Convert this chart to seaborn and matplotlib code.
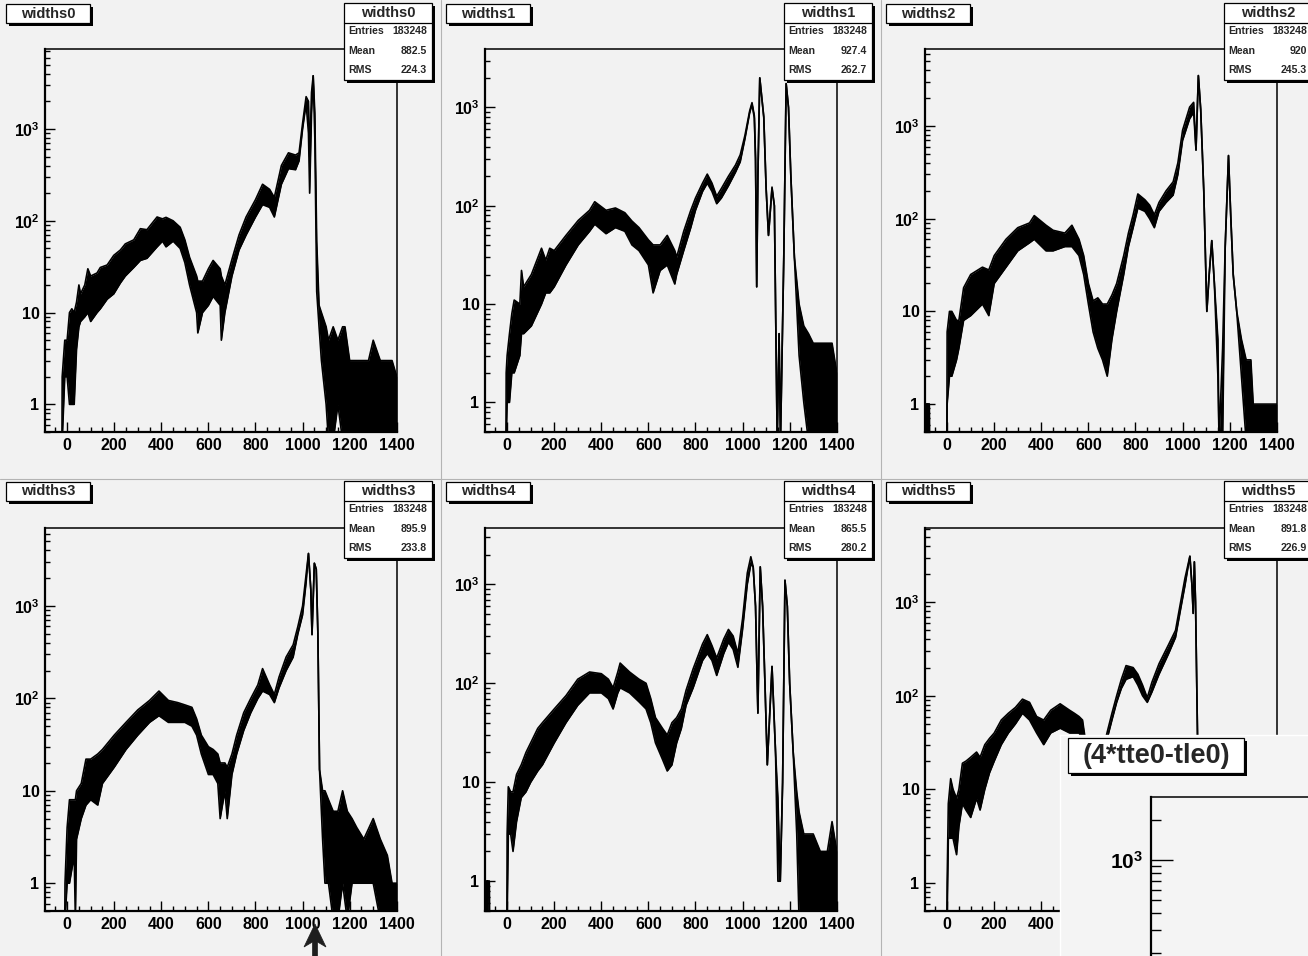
import numpy as np
import pandas as pd
import matplotlib
matplotlib.use("Agg")
import matplotlib.pyplot as plt
import seaborn as sns
from matplotlib.patches import Rectangle, Polygon
from matplotlib.lines import Line2D
from matplotlib.ticker import FixedLocator, LogLocator, MultipleLocator, NullFormatter

# ============================================================
# DATA - read off the ROOT canvas: bin position, lower / upper edge of the noisy trace
# (0.4 = empty bin, drawn below the axis floor)
# ============================================================
W0_X = [-22, -21, -10, 0, 10, 20, 30, 40, 50, 57, 75, 88, 100, 127, 141, 170, 198, 226, 247, 283,
        311, 339, 382, 405, 420, 450, 480, 500, 520, 550, 555, 575, 600, 620, 650, 655, 670, 700, 730, 760,
        800, 830, 860, 880, 910, 940, 970, 985, 1000, 1015, 1025, 1030, 1038, 1045, 1052, 1060, 1070, 1080,
        1100, 1110, 1130, 1150, 1170, 1180, 1200, 1250, 1280, 1300, 1330, 1360, 1380, 1400]
W0_LO = [0.4, 0.4, 2, 2, 1, 1, 1, 4, 7, 8, 9, 10, 8, 10, 11, 14, 16, 21, 25, 31,
         37, 39, 52, 60, 52, 60, 50, 35, 20, 10, 6, 10, 12, 15, 12, 5, 10, 25, 48, 70,
         110, 150, 140, 110, 250, 370, 360, 450, 1000, 1900, 900, 200, 1500, 3800, 800, 17, 7, 3,
         1, 0.4, 0.4, 1, 0.4, 0.4, 0.4, 0.4, 0.4, 0.4, 0.4, 0.4, 0.4, 0.4]
W0_HI = [0.4, 2, 5, 5, 10, 11, 10, 13, 20, 16, 20, 30, 25, 27, 31, 33, 42, 48, 56, 62,
         82, 80, 110, 105, 109, 100, 85, 62, 40, 25, 22, 22, 30, 37, 30, 25, 20, 38, 70, 110,
         170, 250, 220, 180, 400, 550, 520, 550, 1150, 2250, 2000, 500, 2500, 3800, 1500, 60, 12, 10,
         7, 5, 7, 5, 7, 7, 3, 3, 3, 5, 3, 3, 3, 2]

W1_X = [-5, -4, 0, 10, 20, 30, 54, 61, 70, 103, 146, 164, 181, 200, 250, 302, 350, 372, 420, 460,
        500, 530, 560, 600, 620, 650, 680, 712, 720, 750, 780, 800, 830, 850, 870, 890, 910, 940, 970, 990,
        1010, 1030, 1040, 1050, 1055, 1060, 1065, 1073, 1090, 1100, 1110, 1125, 1135, 1147, 1155, 1161, 1175,
        1185, 1195, 1205, 1220, 1240, 1260, 1280, 1300, 1320, 1350, 1380, 1400]
W1_LO = [0.4, 0.4, 1, 1, 2, 2, 3, 5, 5, 6, 10, 13, 13, 15, 25, 40, 55, 65, 52, 60,
         55, 40, 35, 25, 13, 22, 25, 16, 20, 35, 60, 90, 140, 170, 140, 105, 120, 160, 220, 280,
         480, 880, 1080, 780, 290, 15, 200, 2000, 800, 150, 50, 150, 100, 0.4, 5, 0.4, 30,
         1750, 1000, 200, 30, 3, 1, 0.4, 0.4, 0.4, 0.4, 0.4, 0.4]
W1_HI = [0.4, 2, 3, 5, 8, 11, 10, 22, 15, 20, 37, 28, 37, 35, 50, 71, 90, 110, 90, 95,
         85, 70, 60, 45, 40, 40, 50, 35, 30, 55, 90, 120, 170, 210, 170, 125, 150, 200, 260, 330,
         520, 920, 1120, 820, 310, 15, 200, 2000, 800, 150, 50, 155, 100, 0.4, 5, 0.4, 30,
         1750, 1000, 200, 30, 10, 6, 5, 4, 4, 4, 4, 2]

W2_X = [-90, -89, -84, -83, -82, -76, -75, -1, 0, 10, 20, 40, 50, 70, 100, 150, 177, 200, 250, 300,
        350, 370, 420, 450, 500, 530, 560, 580, 600, 620, 640, 660, 680, 700, 720, 750, 770, 790, 810, 840,
        860, 880, 900, 930, 960, 980, 1000, 1030, 1047, 1057, 1067, 1077, 1090, 1103, 1113, 1124, 1135, 1150,
        1155, 1170, 1181, 1195, 1205, 1215, 1230, 1250, 1270, 1290, 1300, 1340, 1370, 1400]
W2_LO = [0.4, 1, 1, 0.4, 1, 1, 0.4, 0.4, 1, 2, 2, 3, 4, 8, 9, 12, 9, 20, 30, 45,
         55, 60, 45, 45, 50, 50, 40, 25, 12, 6, 4, 3, 2, 5, 10, 25, 50, 80, 130, 120,
         100, 80, 120, 150, 180, 300, 700, 1200, 1400, 550, 3500, 1500, 200, 10, 25, 58, 20, 2,
         0.4, 0.4, 50, 480, 100, 25, 10, 2, 0.4, 0.4, 0.4, 0.4, 0.4, 0.4]
W2_HI = [0.4, 1, 1, 0.4, 1, 1, 0.4, 0.4, 6, 10, 10, 8, 8, 18, 25, 30, 28, 40, 60, 80,
         90, 108, 85, 75, 70, 85, 60, 40, 20, 13, 14, 12, 12, 15, 20, 40, 70, 110, 185, 160,
         140, 110, 150, 200, 250, 400, 900, 1600, 1800, 550, 3500, 1500, 200, 10, 25, 58, 20, 5,
         0.4, 4, 50, 480, 100, 25, 10, 5, 3, 3, 1, 1, 1, 1]

W3_X = [-10, -9, 0, 10, 30, 35, 40, 60, 80, 100, 130, 150, 200, 250, 300, 350, 390, 430, 470, 500,
        530, 550, 570, 600, 620, 640, 650, 670, 680, 700, 720, 750, 780, 810, 830, 860, 880, 900, 930, 960,
        980, 1000, 1015, 1025, 1035, 1040, 1050, 1058, 1065, 1072, 1085, 1095, 1110, 1130, 1150, 1170, 1190,
        1210, 1230, 1260, 1300, 1330, 1360, 1380, 1400]
W3_LO = [0.4, 0.4, 1, 1, 2, 0.4, 3, 5, 7, 8, 7, 12, 18, 28, 40, 55, 65, 55, 55, 55,
         50, 40, 25, 15, 15, 12, 5, 10, 5, 15, 25, 45, 70, 100, 120, 110, 90, 130, 200, 280,
         500, 800, 1800, 3700, 1500, 490, 2900, 2500, 500, 17, 3, 1, 1, 0.4, 0.4, 1, 0.4,
         1, 1, 1, 1, 0.4, 0.4, 0.4, 0.4]
W3_HI = [0.4, 1, 4, 8, 8, 8, 10, 12, 22, 22, 25, 28, 40, 55, 75, 95, 120, 95, 90, 85,
         80, 60, 40, 30, 28, 25, 20, 20, 18, 25, 40, 70, 100, 140, 210, 140, 110, 170, 280, 380,
         600, 1000, 2200, 3700, 1500, 490, 2900, 2500, 500, 17, 10, 10, 8, 6, 6, 10, 6,
         5, 4, 3, 5, 3, 2, 1, 1]

W4_X = [-95, -94, -85, -84, -83, -76, -75, -1, 0, 5, 15, 25, 40, 60, 80, 100, 130, 150, 200, 250,
        300, 350, 400, 430, 450, 470, 480, 520, 560, 590, 610, 630, 660, 680, 700, 720, 740, 760, 790, 830,
        850, 870, 890, 920, 940, 960, 980, 1000, 1020, 1035, 1045, 1055, 1065, 1075, 1085, 1095, 1105, 1125,
        1140, 1150, 1160, 1170, 1180, 1190, 1200, 1215, 1230, 1240, 1260, 1300, 1330, 1360, 1380, 1400]
W4_LO = [0.4, 1, 1, 0.4, 1, 1, 0.4, 0.4, 0.4, 3, 3, 2, 4, 7, 8, 10, 13, 15, 25, 40,
         60, 80, 80, 70, 55, 80, 90, 80, 65, 55, 40, 25, 17, 13, 15, 25, 35, 60, 90, 170,
         200, 170, 120, 200, 260, 220, 145, 350, 1000, 1600, 1500, 600, 50, 1500, 600, 100, 15, 148,
         20, 1, 1, 10, 1100, 600, 100, 20, 3, 0.4, 0.4, 0.4, 0.4, 0.4, 0.4, 0.4]
W4_HI = [0.4, 1, 1, 0.4, 1, 1, 0.4, 0.4, 3, 9, 8, 8, 12, 15, 20, 25, 35, 40, 55, 75,
         110, 130, 125, 110, 90, 130, 160, 130, 110, 100, 70, 45, 35, 30, 40, 45, 55, 85, 140, 250,
         310, 240, 180, 280, 350, 300, 200, 450, 1300, 1900, 1500, 600, 50, 1500, 600, 100, 15, 148,
         20, 7, 1, 10, 1100, 600, 100, 20, 8, 5, 3, 3, 2, 2, 4, 2]

W5_X = [-1, 0, 5, 15, 25, 40, 50, 65, 80, 100, 125, 140, 160, 180, 200, 230, 260, 290, 320, 350,
        380, 410, 440, 480, 520, 540, 560, 575, 600, 650, 680, 700, 720, 740, 760, 790, 810, 830, 850, 870,
        900, 940, 970, 990, 1010, 1031, 1040, 1045, 1050, 1055, 1065, 1100, 1200, 1300, 1400]
W5_LO = [0.4, 0.4, 3, 3, 3, 2, 4, 7, 6, 5, 8, 6, 10, 15, 20, 30, 40, 50, 65, 55,
         40, 30, 40, 45, 40, 40, 40, 35, 12, 10, 35, 55, 85, 120, 150, 160, 130, 100, 85, 110,
         170, 280, 420, 800, 1500, 3100, 1500, 760, 2700, 1000, 20, 1, 0.4, 0.4, 0.4]
W5_HI = [0.4, 1, 7, 13, 10, 8, 10, 19, 20, 22, 25, 22, 30, 35, 40, 55, 65, 75, 92, 85,
         60, 55, 70, 82, 70, 65, 60, 55, 20, 20, 41, 65, 100, 150, 210, 200, 170, 130, 95, 140,
         220, 350, 500, 950, 1800, 3100, 1500, 760, 2700, 1000, 20, 6, 4, 3, 2]

HIST_X = [W0_X, W1_X, W2_X, W3_X, W4_X, W5_X]
HIST_LO = [W0_LO, W1_LO, W2_LO, W3_LO, W4_LO, W5_LO]
HIST_HI = [W0_HI, W1_HI, W2_HI, W3_HI, W4_HI, W5_HI]

NAMES = ["widths0", "widths1", "widths2", "widths3", "widths4", "widths5"]
ENTRIES = ["183248", "183248", "183248", "183248", "183248", "183248"]
MEANS = ["882.5", "927.4", "920", "895.9", "865.5", "891.8"]
RMS_VALS = ["224.3", "262.7", "245.3", "233.8", "280.2", "226.9"]
Y_TICKS = [1, 10, 100, 1000]
Y_TICK_LABELS = ["1", "10", "$10^{2}$", "$10^{3}$"]
OVERLAY_TITLE = "(4*tte0-tle0)"

# ============================================================
# LAYOUT (pixels of the 1308x956 canvas)
# ============================================================
W, H = 1308, 956
PAD_X = [0, 440, 880]
PAD_Y = [0, 478]
XLIM = (-94, 1401)
YMAX = [7440, 3935, 6773, 6982, 3708, 6214]
BG = "#f2f2f2"

sns.set_theme(style="ticks")
plt.rcParams.update({
    "font.family": ["Liberation Sans", "DejaVu Sans"],
    "font.weight": "bold",
    "mathtext.fontset": "custom",
    "mathtext.rm": "Liberation Sans:bold",
    "mathtext.it": "Liberation Sans:bold",
    "mathtext.bf": "Liberation Sans:bold",
    "mathtext.default": "rm",
    "axes.edgecolor": "black",
    "xtick.color": "black",
    "ytick.color": "black",
})

fig = plt.figure(figsize=(W / 100, H / 100), dpi=100, facecolor=BG)


def px_rect(x0, y0, x1, y1):
    return [x0 / W, 1 - y1 / H, (x1 - x0) / W, (y1 - y0) / H]


def add_box(x0, y0, x1, y1, z, shadow=3):
    # ROOT style pave: white box with black drop shadow
    fig.add_artist(Rectangle(((x0 + shadow) / W, 1 - (y1 + shadow) / H), (x1 - x0) / W, (y1 - y0) / H,
                             transform=fig.transFigure, facecolor="black", edgecolor="none", zorder=z))
    fig.add_artist(Rectangle((x0 / W, 1 - y1 / H), (x1 - x0) / W, (y1 - y0) / H,
                             transform=fig.transFigure, facecolor="white", edgecolor="black", lw=0.9, zorder=z))


def put_text(x, y, s, z, **kw):
    fig.text(x / W, 1 - y / H, s, zorder=z, **kw)


def draw_hist(ax, xs, lo, hi, ymax):
    n = len(xs)
    df = pd.DataFrame({"x": list(xs) * 2, "count": list(lo) + list(hi), "edge": ["lo"] * n + ["hi"] * n})
    sns.lineplot(data=df, x="x", y="count", units="edge", estimator=None, color="black",
                 lw=1.2, ax=ax, legend=False)
    ax.fill_between(xs, lo, hi, color="black", lw=0)
    ax.set_yscale("log")
    ax.set_xlim(*XLIM)
    ax.set_ylim(0.5, ymax)
    ax.set_xlabel("")
    ax.set_ylabel("")
    ax.set_facecolor(BG)
    for side in ["top", "right"]:
        ax.spines[side].set_linewidth(1.1)
    for side in ["left", "bottom"]:
        ax.spines[side].set_linewidth(1.6)
    ax.xaxis.set_major_locator(MultipleLocator(200))
    ax.xaxis.set_minor_locator(MultipleLocator(50))
    ax.yaxis.set_major_locator(FixedLocator(Y_TICKS))
    ax.set_yticklabels(Y_TICK_LABELS)
    ax.yaxis.set_minor_locator(LogLocator(base=10, subs=np.arange(2, 10)))
    ax.yaxis.set_minor_formatter(NullFormatter())
    ax.tick_params(which="both", direction="in", top=False, right=False, width=1.0, labelsize=11.5)
    ax.tick_params(which="major", length=7)
    ax.tick_params(which="minor", length=3.5)
    ax.tick_params(axis="x", pad=4)
    ax.tick_params(axis="y", pad=4)


# ---- pad separators
for xv in [440.5, 880.5]:
    fig.add_artist(Line2D([xv / W, xv / W], [0, 1], transform=fig.transFigure, color="#b4b4b4", lw=0.8, zorder=0.5))
fig.add_artist(Line2D([0, 1], [1 - 478.5 / H, 1 - 478.5 / H], transform=fig.transFigure, color="#b4b4b4", lw=0.8, zorder=0.5))

# ---- six histograms
for k in range(6):
    r, c = divmod(k, 3)
    ox, oy = PAD_X[c], PAD_Y[r]
    ax = fig.add_axes(px_rect(ox + 45, oy + 49 + r, ox + 397, oy + 432 + r))
    draw_hist(ax, HIST_X[k], HIST_LO[k], HIST_HI[k], YMAX[k])

    # title pave
    add_box(ox + 6, oy + 4, ox + 90, oy + 23, z=3)
    put_text(ox + 48, oy + 13.5, NAMES[k], 4, ha="center", va="center", fontsize=10.5, fontweight="bold")

    # stats pave
    add_box(ox + 344, oy + 3, ox + 432, oy + 80, z=3)
    fig.add_artist(Line2D([(ox + 344) / W, (ox + 432) / W], [1 - (oy + 23) / H] * 2,
                          transform=fig.transFigure, color="black", lw=0.9, zorder=4))
    put_text(ox + 388, oy + 13, NAMES[k], 4, ha="center", va="center", fontsize=10.5, fontweight="bold")
    for yy, lab, val in [(31, "Entries", ENTRIES[k]), (51, "Mean", MEANS[k]), (70, "RMS", RMS_VALS[k])]:
        put_text(ox + 348, oy + yy, lab, 4, ha="left", va="center", fontsize=7.6, fontweight="bold")
        put_text(ox + 427, oy + yy, val, 4, ha="right", va="center", fontsize=7.6, fontweight="bold")

# ---- second canvas window overlapping the bottom right corner
ov = fig.add_axes(px_rect(1060, 735, W, H), zorder=5)
ov.set_facecolor("#f4f4f4")
ov.set_xticks([])
ov.set_yticks([])
for side in ["right", "bottom"]:
    ov.spines[side].set_visible(False)
for side in ["left", "top"]:
    ov.spines[side].set_color("white")
    ov.spines[side].set_linewidth(1.0)

add_box(1068, 738, 1244, 773, z=6)
put_text(1156, 756, OVERLAY_TITLE, 7, ha="center", va="center", fontsize=19.5, fontweight="bold")

inner = fig.add_axes(px_rect(1151, 797, 1500, H), zorder=7)
inner.set_facecolor("none")
inner.set_yscale("log")
inner.set_ylim(10 ** (3 - 96 / 133), 10 ** (3 + 63 / 133))
inner.set_xticks([])
inner.spines["bottom"].set_visible(False)
inner.spines["right"].set_visible(False)
inner.spines["top"].set_linewidth(1.1)
inner.spines["left"].set_linewidth(1.6)
inner.yaxis.set_major_locator(FixedLocator([1000]))
inner.set_yticklabels(["$10^{3}$"])
inner.yaxis.set_minor_locator(LogLocator(base=10, subs=np.arange(2, 10)))
inner.yaxis.set_minor_formatter(NullFormatter())
inner.tick_params(which="both", direction="in", right=False, width=1.0, labelsize=15, pad=6)
inner.tick_params(which="major", length=16)
inner.tick_params(which="minor", length=7.5)

# ---- mouse pointer left in the screenshot
cursor = [(315, 924), (326, 947), (317.5, 942), (317.5, 958), (312.5, 958), (312.5, 942), (304, 947)]
fig.add_artist(Polygon([(x / W, 1 - y / H) for x, y in cursor], closed=True, transform=fig.transFigure,
                       facecolor="#1e1e1e", edgecolor="#1e1e1e", lw=0.5, zorder=10))

fig.savefig("out.png", dpi=100, facecolor=BG)
plt.close(fig)
